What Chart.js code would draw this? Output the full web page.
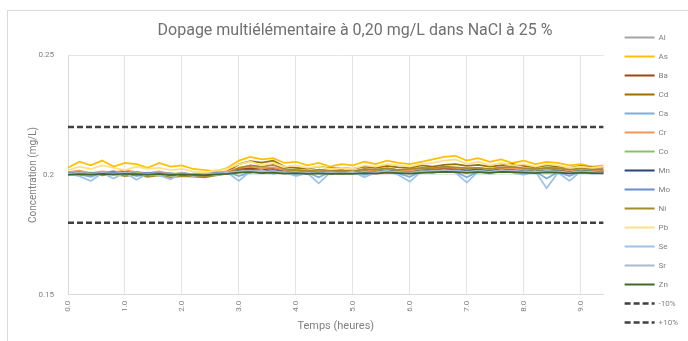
<!DOCTYPE html>
<html>
<head>
<meta charset="utf-8">
<script src="https://cdn.jsdelivr.net/npm/chart.js@4"></script>
<style>
  body { margin: 0; background: #fff; }
  #frame { position: absolute; left: 7px; top: 10px; width: 700px; height: 340px; border-left: 1px solid #d9d9d9; border-top: 1px solid #d9d9d9; }
  #chart { position: absolute; left: 8px; top: 11px; }
</style>
</head>
<body>
<div id="frame"></div>
<canvas id="chart" width="680" height="330"></canvas>
<script>
const hours = [0, 0.2, 0.4, 0.6, 0.8, 1.0, 1.2, 1.4, 1.6, 1.8, 2.0, 2.2,
  2.4, 2.6, 2.8, 3.0, 3.2, 3.4, 3.6, 3.8, 4.0, 4.2, 4.4, 4.6,
  4.8, 5.0, 5.2, 5.4, 5.6, 5.8, 6.0, 6.2, 6.4, 6.6, 6.8, 7.0,
  7.2, 7.4, 7.6, 7.8, 8.0, 8.2, 8.4, 8.6, 8.8, 9.0, 9.2, 9.4];

const xTicks = [0, 1, 2, 3, 4, 5, 6, 7, 8, 9];
const yTicks = [0.15, 0.2, 0.25];

const alValues = [0.2004, 0.2008, 0.2002, 0.2006, 0.2004, 0.2009, 0.2003, 0.2001, 0.2006, 0.2000, 0.2004, 0.2001,
  0.2000, 0.2004, 0.2007, 0.2013, 0.2016, 0.2011, 0.2014, 0.2009, 0.2011, 0.2007, 0.2010, 0.2006,
  0.2009, 0.2007, 0.2011, 0.2009, 0.2013, 0.2011, 0.2009, 0.2012, 0.2014, 0.2017, 0.2015, 0.2012,
  0.2015, 0.2012, 0.2017, 0.2015, 0.2012, 0.2011, 0.2014, 0.2012, 0.2009, 0.2012, 0.2011, 0.2009];
const asValues = [0.2030, 0.2055, 0.2040, 0.2060, 0.2035, 0.2050, 0.2045, 0.2030, 0.2050, 0.2035, 0.2040, 0.2025,
  0.2020, 0.2015, 0.2030, 0.2060, 0.2075, 0.2065, 0.2070, 0.2050, 0.2055, 0.2040, 0.2050, 0.2035,
  0.2045, 0.2040, 0.2055, 0.2045, 0.2060, 0.2050, 0.2045, 0.2055, 0.2065, 0.2075, 0.2080, 0.2060,
  0.2070, 0.2055, 0.2065, 0.2050, 0.2060, 0.2045, 0.2055, 0.2050, 0.2040, 0.2045, 0.2035, 0.2040];
const baValues = [0.2008, 0.2012, 0.2005, 0.2010, 0.2015, 0.2008, 0.2012, 0.2005, 0.2010, 0.2002, 0.2005, 0.1998,
  0.2000, 0.2005, 0.2010, 0.2025, 0.2030, 0.2022, 0.2028, 0.2018, 0.2020, 0.2015, 0.2018, 0.2012,
  0.2018, 0.2015, 0.2020, 0.2018, 0.2025, 0.2020, 0.2018, 0.2022, 0.2025, 0.2030, 0.2028, 0.2022,
  0.2025, 0.2020, 0.2028, 0.2030, 0.2025, 0.2020, 0.2028, 0.2022, 0.2018, 0.2022, 0.2020, 0.2018];
const cdValues = [0.2010, 0.2015, 0.2005, 0.2012, 0.2008, 0.2015, 0.2010, 0.2005, 0.2012, 0.2000, 0.1995, 0.2000,
  0.1995, 0.2005, 0.2015, 0.2045, 0.2058, 0.2052, 0.2060, 0.2035, 0.2030, 0.2025, 0.2035, 0.2028,
  0.2030, 0.2025, 0.2035, 0.2030, 0.2038, 0.2032, 0.2030, 0.2040, 0.2035, 0.2042, 0.2045, 0.2038,
  0.2042, 0.2035, 0.2040, 0.2045, 0.2038, 0.2032, 0.2040, 0.2035, 0.2030, 0.2038, 0.2032, 0.2030];
const caValues = [0.2010, 0.2002, 0.1992, 0.2008, 0.2000, 0.2012, 0.1995, 0.2008, 0.2005, 0.1998, 0.2010, 0.2002,
  0.2008, 0.2000, 0.2012, 0.1995, 0.2010, 0.2018, 0.2008, 0.2012, 0.2000, 0.2010, 0.1990, 0.2012,
  0.2008, 0.2015, 0.2000, 0.2012, 0.2018, 0.2005, 0.1992, 0.2015, 0.2010, 0.2018, 0.2012, 0.1990,
  0.2015, 0.2008, 0.2018, 0.2012, 0.2005, 0.2015, 0.1985, 0.2012, 0.1995, 0.2015, 0.2008, 0.2012];
const crValues = [0.2012, 0.2018, 0.2008, 0.2015, 0.2010, 0.2020, 0.2012, 0.2008, 0.2015, 0.2005, 0.2008, 0.2002,
  0.2005, 0.2010, 0.2015, 0.2030, 0.2035, 0.2028, 0.2032, 0.2020, 0.2022, 0.2018, 0.2020, 0.2015,
  0.2018, 0.2015, 0.2022, 0.2018, 0.2025, 0.2020, 0.2018, 0.2025, 0.2028, 0.2032, 0.2030, 0.2025,
  0.2028, 0.2022, 0.2030, 0.2028, 0.2025, 0.2020, 0.2028, 0.2025, 0.2018, 0.2022, 0.2020, 0.2018];
const coValues = [0.2002, 0.2008, 0.2000, 0.2005, 0.2010, 0.2003, 0.2008, 0.2002, 0.2006, 0.2000, 0.2004, 0.2000,
  0.2002, 0.2006, 0.2008, 0.2015, 0.2012, 0.2018, 0.2010, 0.2014, 0.2012, 0.2008, 0.2012, 0.2010,
  0.2012, 0.2010, 0.2015, 0.2012, 0.2018, 0.2014, 0.2012, 0.2016, 0.2018, 0.2020, 0.2018, 0.2015,
  0.2018, 0.2015, 0.2020, 0.2018, 0.2016, 0.2014, 0.2018, 0.2016, 0.2012, 0.2016, 0.2014, 0.2012];
const mnValues = [0.2005, 0.2010, 0.2003, 0.2008, 0.2006, 0.2012, 0.2005, 0.2002, 0.2008, 0.2000, 0.2005, 0.2002,
  0.2000, 0.2004, 0.2008, 0.2018, 0.2022, 0.2015, 0.2020, 0.2012, 0.2014, 0.2010, 0.2012, 0.2008,
  0.2012, 0.2010, 0.2014, 0.2012, 0.2018, 0.2014, 0.2012, 0.2016, 0.2018, 0.2022, 0.2020, 0.2016,
  0.2020, 0.2015, 0.2022, 0.2020, 0.2016, 0.2014, 0.2018, 0.2016, 0.2012, 0.2016, 0.2014, 0.2012];
const moValues = [0.2008, 0.2002, 0.2010, 0.2005, 0.2012, 0.2006, 0.2003, 0.2010, 0.2004, 0.2008, 0.2000, 0.2006,
  0.2003, 0.2008, 0.2005, 0.2012, 0.2016, 0.2010, 0.2014, 0.2008, 0.2012, 0.2006, 0.2010, 0.2005,
  0.2010, 0.2008, 0.2012, 0.2010, 0.2015, 0.2012, 0.2010, 0.2014, 0.2015, 0.2018, 0.2016, 0.2012,
  0.2016, 0.2012, 0.2018, 0.2015, 0.2012, 0.2010, 0.2015, 0.2012, 0.2008, 0.2012, 0.2010, 0.2008];
const niValues = [0.2005, 0.2000, 0.2008, 0.1998, 0.2003, 0.1995, 0.2000, 0.1992, 0.1998, 0.1990, 0.1995, 0.1993,
  0.1990, 0.1998, 0.2005, 0.2030, 0.2040, 0.2035, 0.2042, 0.2025, 0.2020, 0.2015, 0.2022, 0.2018,
  0.2020, 0.2015, 0.2025, 0.2022, 0.2028, 0.2020, 0.2025, 0.2030, 0.2028, 0.2035, 0.2032, 0.2028,
  0.2030, 0.2025, 0.2032, 0.2035, 0.2028, 0.2025, 0.2030, 0.2028, 0.2022, 0.2028, 0.2025, 0.2022];
const pbValues = [0.2020, 0.2035, 0.2025, 0.2040, 0.2030, 0.2020, 0.2035, 0.2025, 0.2030, 0.2020, 0.2025, 0.2015,
  0.2010, 0.2020, 0.2025, 0.2045, 0.2055, 0.2040, 0.2050, 0.2035, 0.2040, 0.2030, 0.2035, 0.2025,
  0.2030, 0.2025, 0.2040, 0.2035, 0.2045, 0.2040, 0.2035, 0.2045, 0.2050, 0.2060, 0.2065, 0.2045,
  0.2055, 0.2040, 0.2050, 0.2040, 0.2045, 0.2035, 0.2045, 0.2040, 0.2030, 0.2035, 0.2030, 0.2035];
const seValues = [0.2005, 0.1995, 0.1975, 0.2008, 0.1985, 0.2010, 0.1980, 0.2005, 0.1998, 0.1982, 0.2008, 0.1995,
  0.2005, 0.1998, 0.2010, 0.1975, 0.2015, 0.2020, 0.2005, 0.2012, 0.1995, 0.2008, 0.1965, 0.2010,
  0.2005, 0.2015, 0.1990, 0.2010, 0.2018, 0.2000, 0.1972, 0.2015, 0.2008, 0.2020, 0.2010, 0.1968,
  0.2015, 0.2005, 0.2020, 0.2010, 0.2000, 0.2015, 0.1945, 0.2010, 0.1975, 0.2015, 0.2005, 0.2010];
const srValues = [0.2006, 0.2010, 0.2004, 0.2009, 0.2005, 0.2011, 0.2006, 0.2003, 0.2008, 0.2002, 0.2006, 0.2003,
  0.2002, 0.2006, 0.2009, 0.2016, 0.2019, 0.2014, 0.2017, 0.2011, 0.2013, 0.2009, 0.2012, 0.2008,
  0.2011, 0.2009, 0.2013, 0.2011, 0.2016, 0.2013, 0.2011, 0.2015, 0.2017, 0.2020, 0.2018, 0.2014,
  0.2018, 0.2014, 0.2020, 0.2018, 0.2015, 0.2013, 0.2017, 0.2015, 0.2011, 0.2015, 0.2013, 0.2011];
const znValues = [0.2000, 0.2003, 0.2001, 0.2004, 0.2002, 0.2005, 0.2003, 0.2001, 0.2004, 0.2000, 0.2002, 0.2000,
  0.1999, 0.2002, 0.2004, 0.2010, 0.2012, 0.2008, 0.2010, 0.2006, 0.2008, 0.2005, 0.2007, 0.2004,
  0.2006, 0.2005, 0.2008, 0.2006, 0.2010, 0.2008, 0.2006, 0.2009, 0.2011, 0.2013, 0.2012, 0.2009,
  0.2012, 0.2009, 0.2013, 0.2012, 0.2010, 0.2008, 0.2011, 0.2010, 0.2007, 0.2010, 0.2008, 0.2007];

const lowLimit = 0.18;
const highLimit = 0.22;
const limitSpan = [0, 9.4];

const elements = ['Al', 'As', 'Ba', 'Cd', 'Ca', 'Cr', 'Co', 'Mn', 'Mo', 'Ni', 'Pb', 'Se', 'Sr', 'Zn'];
const elementValues = [alValues, asValues, baValues, cdValues, caValues, crValues, coValues,
  mnValues, moValues, niValues, pbValues, seValues, srValues, znValues];
const elementColors = ['#a5a5a5', '#ffc000', '#9e480e', '#997300', '#7cafdd', '#f1975a', '#8cc168',
  '#264478', '#698ed0', '#a68b2c', '#ffe083', '#9dc3e6', '#acb9ca', '#43682b'];

const toPoints = vals => hours.map((h, i) => ({ x: h, y: vals[i] }));

const datasets = elements.map((name, i) => ({
    label: name,
    data: toPoints(elementValues[i]),
    borderColor: elementColors[i],
    backgroundColor: elementColors[i],
    borderWidth: 1.75,
    order: 20 - i
}));

datasets.push({
    label: '-10%',
    data: limitSpan.map(h => ({ x: h, y: lowLimit })),
    borderColor: '#404040',
    backgroundColor: '#404040',
    borderWidth: 2.5,
    borderDash: [6, 3],
    order: 1
});
datasets.push({
    label: '+10%',
    data: limitSpan.map(h => ({ x: h, y: highLimit })),
    borderColor: '#404040',
    backgroundColor: '#404040',
    borderWidth: 2.5,
    borderDash: [6, 3],
    order: 0
});

const font = 'Roboto, "Noto Sans", sans-serif';
const textColor = '#7f7f7f';

new Chart(document.getElementById('chart').getContext('2d'), {
    type: 'line',
    data: { datasets: datasets },
    options: {
        responsive: false,
        animation: false,
        layout: { padding: { left: 14, right: 0, top: 10, bottom: 2 } },
        elements: { point: { radius: 0 }, line: { tension: 0 } },
        plugins: {
            title: {
                display: true,
                text: 'Dopage multiélémentaire à 0,20 mg/L dans NaCl à 25 %',
                color: '#707070',
                font: { family: font, size: 16, weight: 'normal' },
                padding: { top: 0, bottom: 15 }
            },
            legend: {
                position: 'right',
                labels: {
                    usePointStyle: true,
                    pointStyle: 'line',
                    pointStyleWidth: 30,
                    boxWidth: 30,
                    padding: 11,
                    font: { family: font, size: 8 },
                    // keep dataset order and show the dashes of the limit lines
                    generateLabels: chart => chart.data.datasets.map((ds, i) => ({
                        text: ds.label,
                        datasetIndex: i,
                        fillStyle: ds.borderColor,
                        strokeStyle: ds.borderColor,
                        lineWidth: ds.borderDash ? 2.5 : 2,
                        lineDash: ds.borderDash || [],
                        pointStyle: 'line',
                        fontColor: textColor,
                        hidden: false
                    }))
                }
            },
            tooltip: { enabled: false }
        },
        scales: {
            x: {
                type: 'linear',
                min: 0,
                max: 9.4,
                afterBuildTicks: scale => { scale.ticks = xTicks.map(v => ({ value: v })); },
                ticks: {
                    callback: v => v.toFixed(1),
                    minRotation: 90,
                    maxRotation: 90,
                    padding: 6,
                    color: textColor,
                    font: { family: font, size: 8 }
                },
                grid: { color: '#e4e4e4', drawTicks: false },
                border: { color: '#d9d9d9' },
                title: {
                    display: true,
                    text: 'Temps (heures)',
                    color: textColor,
                    font: { family: font, size: 11 },
                    padding: { top: 2, bottom: 6 }
                }
            },
            y: {
                min: 0.15,
                max: 0.25,
                afterBuildTicks: scale => { scale.ticks = yTicks.map(v => ({ value: v })); },
                afterFit: scale => { scale.width = 46; },
                ticks: {
                    callback: v => String(+v.toFixed(2)),
                    padding: 14,
                    color: textColor,
                    font: { family: font, size: 8 }
                },
                grid: { color: '#e4e4e4', drawTicks: false },
                border: { color: '#d9d9d9' },
                title: {
                    display: true,
                    text: 'Concentration (mg/L)',
                    color: textColor,
                    font: { family: font, size: 10 },
                    padding: { top: 5, bottom: 0 }
                }
            },
            gap: {
                position: 'right',
                min: 0,
                max: 1,
                afterFit: scale => { scale.width = 10; },
                ticks: { display: false },
                grid: { display: false },
                border: { display: false }
            }
        }
    }
});
</script>
</body>
</html>
